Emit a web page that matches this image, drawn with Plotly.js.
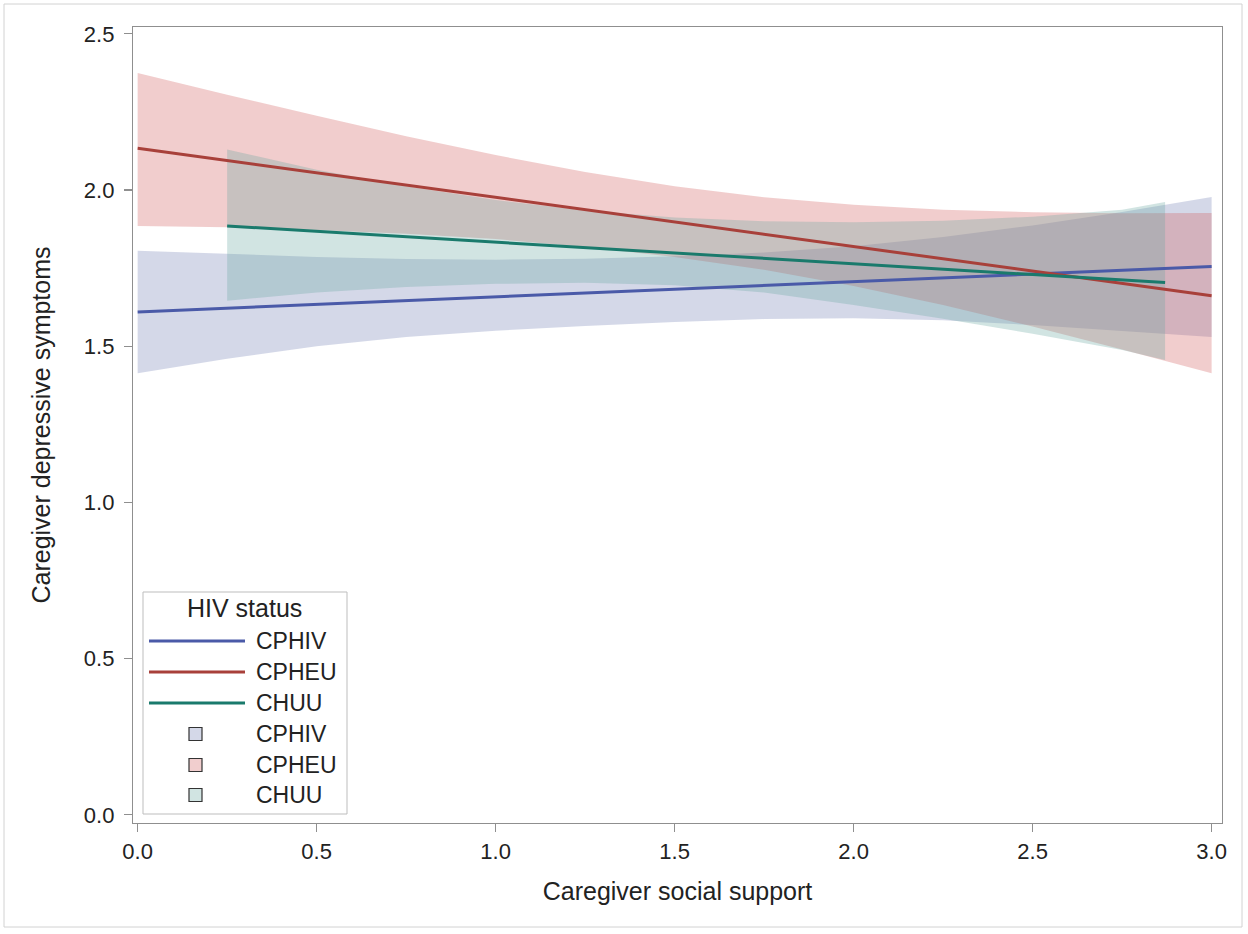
<!DOCTYPE html>
<html>
<head>
<meta charset="utf-8">
<script src="https://cdn.plot.ly/plotly-3.0.1.min.js"></script>
<style>
  html, body { margin: 0; padding: 0; background: #ffffff; }
  #chart { width: 1248px; height: 934px; }
</style>
</head>
<body>
<div id="chart"></div>
<script>
// ---------------- data ----------------
const groups = ["CPHIV", "CPHEU", "CHUU"];
const legendTitle = "HIV status";
const xTitle = "Caregiver social support";
const yTitle = "Caregiver depressive symptoms";

// x grid of the confidence bands
const xBand = [0, 0.25, 0.5, 0.75, 1.0, 1.25, 1.5, 1.75, 2.0, 2.25, 2.5, 2.75, 3.0];

// CPHIV
const cphivLineX = [0, 3.0];
const cphivLineY = [1.61, 1.755];
const cphivUpper = [1.806, 1.795, 1.786, 1.779, 1.777, 1.780, 1.788, 1.800, 1.820, 1.850, 1.887, 1.930, 1.978];
const cphivLower = [1.414, 1.460, 1.500, 1.530, 1.550, 1.565, 1.578, 1.587, 1.590, 1.583, 1.568, 1.550, 1.530];

// CPHEU
const cpheuLineX = [0, 3.0];
const cpheuLineY = [2.134, 1.662];
const cpheuUpper = [2.375, 2.305, 2.238, 2.172, 2.112, 2.058, 2.012, 1.977, 1.953, 1.937, 1.929, 1.926, 1.927];
const cpheuLower = [1.885, 1.881, 1.872, 1.860, 1.843, 1.818, 1.786, 1.745, 1.693, 1.632, 1.563, 1.490, 1.414];

// CHUU (observed range is narrower)
const chuuBandX = [0.25, 0.5, 0.75, 1.0, 1.25, 1.5, 1.75, 2.0, 2.25, 2.5, 2.75, 2.87];
const chuuLineX = [0.25, 2.87];
const chuuLineY = [1.885, 1.704];
const chuuUpper = [2.130, 2.065, 2.012, 1.968, 1.935, 1.912, 1.900, 1.897, 1.902, 1.915, 1.937, 1.962];
const chuuLower = [1.646, 1.672, 1.690, 1.700, 1.703, 1.695, 1.672, 1.632, 1.588, 1.540, 1.488, 1.456];

const xTicks = [0, 0.5, 1.0, 1.5, 2.0, 2.5, 3.0];
const yTicks = [0, 0.5, 1.0, 1.5, 2.0, 2.5];

// ---------------- styles ----------------
const lineColors = ["#4A5AA8", "#A8403A", "#1A7A6C"];
const fillColors = ["rgba(111,126,179,0.30)", "rgba(208,91,91,0.30)", "rgba(102,165,160,0.30)"];
const swatchColors = ["#D4D8E8", "#F1CECE", "#D1E4E2"];
const FONT = "Liberation Sans, Arial, sans-serif";
const TXT = "#222222";
const AX = "#8f8f8f";

function band(xs, up, lo, color) {
  return {
    x: xs.concat(xs.slice().reverse()),
    y: up.concat(lo.slice().reverse()),
    type: "scatter", mode: "lines", fill: "toself",
    fillcolor: color, line: { width: 0, color: "rgba(0,0,0,0)" },
    hoverinfo: "skip", showlegend: false
  };
}
function fit(xs, ys, color, name) {
  return { x: xs, y: ys, type: "scatter", mode: "lines", name: name,
    line: { color: color, width: 3 }, showlegend: false };
}

const traces = [
  band(xBand, cphivUpper, cphivLower, fillColors[0]),
  band(xBand, cpheuUpper, cpheuLower, fillColors[1]),
  band(chuuBandX, chuuUpper, chuuLower, fillColors[2]),
  fit(cphivLineX, cphivLineY, lineColors[0], groups[0]),
  fit(cpheuLineX, cpheuLineY, lineColors[1], groups[1]),
  fit(chuuLineX, chuuLineY, lineColors[2], groups[2])
];

// ---------------- layout geometry ----------------
const W = 1248, H = 934;
const PL = 133, PT = 27, PR = 26, PB = 111;
const PW = W - PL - PR, PH = H - PT - PB;
const px = v => (v - PL) / PW;
const py = v => (PT + PH - v) / PH;

const shapes = [];
const annotations = [];

// outer frame of the picture
shapes.push({ type: "rect", xref: "paper", yref: "paper",
  x0: px(4), x1: px(1242), y0: py(927), y1: py(4),
  line: { color: "#d2d2d2", width: 1 }, fillcolor: "rgba(0,0,0,0)", layer: "below" });

// manual legend (SAS style)
shapes.push({ type: "rect", xref: "paper", yref: "paper",
  x0: px(143), x1: px(347), y0: py(814), y1: py(592),
  line: { color: "#bdbdbd", width: 1 }, fillcolor: "#ffffff", layer: "above" });
annotations.push({ xref: "paper", yref: "paper", x: px(244), y: py(608),
  text: legendTitle, showarrow: false, xanchor: "center", yanchor: "middle",
  font: { family: FONT, size: 25, color: TXT } });
const rowY = [641, 672, 703, 734, 765, 795];
groups.forEach((g, i) => {
  shapes.push({ type: "line", xref: "paper", yref: "paper",
    x0: px(149), x1: px(245), y0: py(rowY[i]), y1: py(rowY[i]),
    line: { color: lineColors[i], width: 3 }, layer: "above" });
  annotations.push({ xref: "paper", yref: "paper", x: px(254), y: py(rowY[i]),
    text: g, showarrow: false, xanchor: "left", yanchor: "middle",
    font: { family: FONT, size: 23, color: TXT } });
});
groups.forEach((g, i) => {
  const cy = rowY[i + 3];
  shapes.push({ type: "rect", xref: "paper", yref: "paper",
    x0: px(189), x1: px(202), y0: py(cy + 6.5), y1: py(cy - 6.5),
    line: { color: "#333333", width: 1.2 }, fillcolor: swatchColors[i], layer: "above" });
  annotations.push({ xref: "paper", yref: "paper", x: px(254), y: py(cy),
    text: g, showarrow: false, xanchor: "left", yanchor: "middle",
    font: { family: FONT, size: 23, color: TXT } });
});

const layout = {
  width: W, height: H,
  margin: { l: PL, r: PR, t: PT, b: PB, pad: 0 },
  paper_bgcolor: "#ffffff", plot_bgcolor: "#ffffff",
  showlegend: false,
  font: { family: FONT, size: 22, color: TXT },
  xaxis: {
    range: [-0.013, 3.029], tickvals: xTicks, tickformat: ".1f",
    showgrid: false, zeroline: false,
    showline: true, mirror: true, linecolor: AX, linewidth: 1.2,
    ticks: "outside", ticklen: 8, tickwidth: 1.2, tickcolor: AX,
    tickfont: { family: FONT, size: 22, color: TXT },
    title: { text: xTitle, font: { family: FONT, size: 25, color: TXT }, standoff: 20 },
    automargin: false
  },
  yaxis: {
    range: [-0.026, 2.522], tickvals: yTicks, tickformat: ".1f",
    showgrid: false, zeroline: false,
    showline: true, mirror: true, linecolor: AX, linewidth: 1.2,
    ticks: "outside", ticklen: 8, tickwidth: 1.2, tickcolor: AX,
    ticklabelstandoff: 5,
    tickfont: { family: FONT, size: 22, color: TXT },
    title: { text: yTitle, font: { family: FONT, size: 25, color: TXT }, standoff: 26 },
    automargin: false
  },
  shapes: shapes,
  annotations: annotations
};

Plotly.newPlot("chart", traces, layout, { staticPlot: true, displayModeBar: false });
</script>
</body>
</html>
